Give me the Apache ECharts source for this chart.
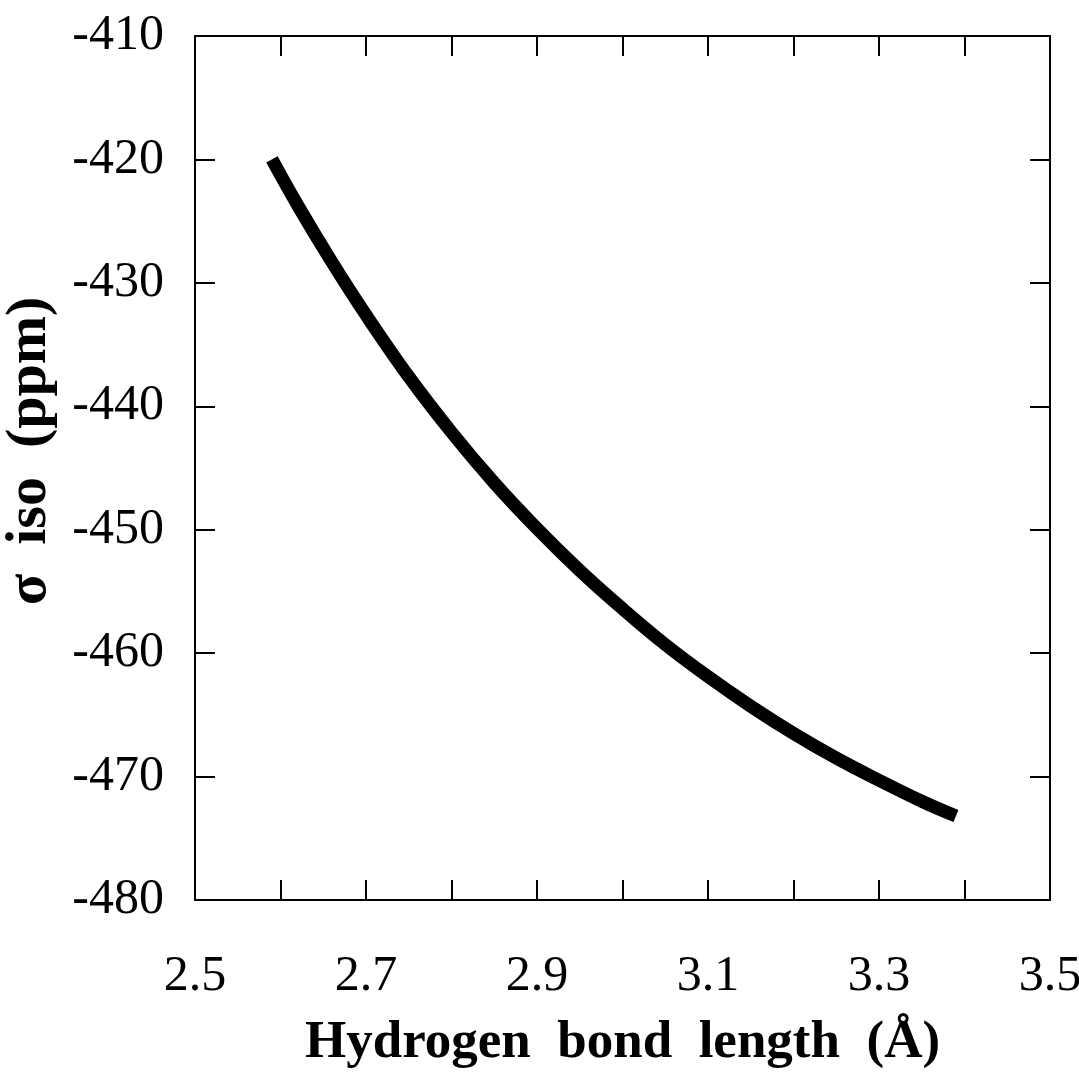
<!DOCTYPE html>
<html>
<head>
<meta charset="utf-8">
<script src="https://cdn.jsdelivr.net/npm/echarts@6/dist/echarts.min.js"></script>
<style>
html,body{margin:0;padding:0;background:#fff;}
#chart{width:1079px;height:1072px;}
</style>
</head>
<body>
<div id="chart"></div>
<script>
// Data
const bondLength = [2.59, 2.62, 2.66, 2.70, 2.75, 2.80, 2.85, 2.90, 2.95, 3.00, 3.05, 3.10, 3.15, 3.20, 3.25, 3.30, 3.35, 3.39];
const sigmaIso   = [-420.0, -423.7, -428.3, -432.6, -437.6, -442.1, -446.2, -449.9, -453.3, -456.4, -459.3, -461.9, -464.3, -466.5, -468.5, -470.3, -472.0, -473.2];
const xTickLabels = ['2.5', '2.7', '2.9', '3.1', '3.3', '3.5'];
const yTickLabels = ['-480', '-470', '-460', '-450', '-440', '-430', '-420', '-410'];
const xTitle = 'Hydrogen  bond  length  (Å)';
const yTitle = 'σ  iso  (ppm)';

const FONT = '"Liberation Serif", "Times New Roman", serif';
const chart = echarts.init(document.getElementById('chart'), null, {renderer: 'canvas'});

const axisLine = {show: true, lineStyle: {color: '#000', width: 2}};
const axisTick = {show: true, inside: true, length: 20, lineStyle: {color: '#000', width: 2}};

const pts = bondLength.map((x, i) => [x, sigmaIso[i]]);

chart.setOption({
  backgroundColor: '#fff',
  animation: false,
  grid: {left: 195, right: 29, top: 36, bottom: 172, containLabel: false, outerBoundsMode: 'none'},
  xAxis: [{
    type: 'value', min: 2.5, max: 3.5, interval: 0.1, position: 'bottom',
    axisLine, axisTick, splitLine: {show: false},
    axisLabel: {
      margin: 52, color: '#000', fontFamily: FONT, fontSize: 50,
      formatter: v => { const s = v.toFixed(1); return xTickLabels.includes(s) ? s : ''; }
    },
    name: xTitle, nameLocation: 'middle', nameGap: 117,
    nameTextStyle: {color: '#000', fontFamily: FONT, fontSize: 53, fontWeight: 'bold'}
  }, {
    type: 'value', min: 2.5, max: 3.5, interval: 0.1, position: 'top',
    axisLine, axisTick, splitLine: {show: false}, axisLabel: {show: false}
  }],
  yAxis: [{
    type: 'value', min: -480, max: -410, interval: 10, position: 'left',
    axisLine, axisTick, splitLine: {show: false},
    axisLabel: {
      margin: 31, color: '#000', fontFamily: FONT, fontSize: 50,
      formatter: v => { const s = String(Math.round(v)); return yTickLabels.includes(s) ? s : ''; }
    }
  }, {
    type: 'value', min: -480, max: -410, interval: 10, position: 'right',
    axisLine, axisTick, splitLine: {show: false}, axisLabel: {show: false}
  }],
  graphic: [{
    type: 'text', x: 30, y: 451, rotation: Math.PI / 2,
    style: {
      text: yTitle, fill: '#000', font: 'bold 58px ' + FONT,
      textAlign: 'center', textVerticalAlign: 'middle'
    }
  }],
  series: [{
    type: 'line', xAxisIndex: 0, yAxisIndex: 0,
    data: pts, smooth: 0.4, showSymbol: false,
    lineStyle: {color: '#000', width: 13, cap: 'butt', join: 'round'}
  }]
});
</script>
</body>
</html>
